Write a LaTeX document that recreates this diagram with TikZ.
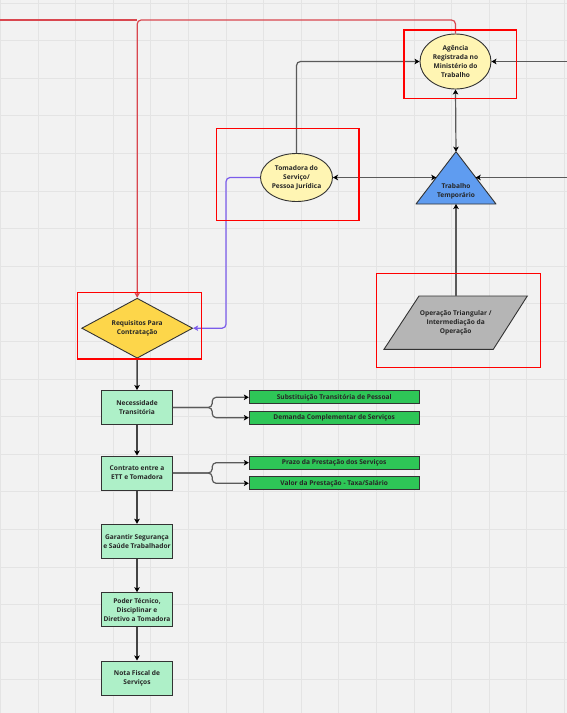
\documentclass[tikz,border=0pt]{standalone}
\usepackage{fontspec}
\setmainfont{Open Sans}
\usetikzlibrary{shapes.geometric,arrows.meta}
\definecolor{bg}{HTML}{F2F2F2}
\definecolor{gridc}{HTML}{E4E4E4}
\definecolor{edge}{HTML}{333333}
\definecolor{txt}{HTML}{262626}
\definecolor{lineg}{HTML}{5A5A5A}
\definecolor{lined}{HTML}{444444}
\definecolor{redc}{HTML}{D9474F}
\definecolor{purp}{HTML}{7B5CEB}
\definecolor{yellowL}{HTML}{FFF5B3}
\definecolor{yellowD}{HTML}{FDD64A}
\definecolor{blueT}{HTML}{5F9CF0}
\definecolor{grayP}{HTML}{B5B5B5}
\definecolor{mint}{HTML}{AEF0C8}
\definecolor{greenB}{HTML}{2EC657}
\tikzset{
  lbl/.style={font=\fontsize{6.6}{9}\selectfont\bfseries, text=txt, align=center},
  ell/.style={ellipse, draw=edge, fill=yellowL, line width=0.9pt, inner sep=0pt, lbl},
  lbox/.style={rectangle, draw=edge, fill=mint, line width=1pt, minimum width=70.6pt, minimum height=34pt, inner sep=0pt, lbl},
  gbox/.style={rectangle, draw=edge, fill=greenB, line width=1pt, minimum width=169.7pt, minimum height=13.3pt, inner sep=0pt, lbl},
  conn/.style={draw=lineg, line width=1.2pt, rounded corners=4pt},
  connd/.style={draw=lined, line width=1.5pt, rounded corners=4pt},
  tipk/.style={-{Stealth[length=5pt,width=5.5pt,inset=1.2pt,color=black]}},
  tipkk/.style={{Stealth[length=5pt,width=5.5pt,inset=1.2pt,color=black]}-{Stealth[length=5pt,width=5.5pt,inset=1.2pt,color=black]}},
  tipc/.style={-{Stealth[length=5pt,width=5.5pt,inset=1.2pt]}},
  anno/.style={draw=red, line width=1.5pt},
}
\begin{document}
\begin{tikzpicture}[x=1pt,y=-1pt]
\useasboundingbox (0,0) rectangle (567,713);
\fill[bg] (0,0) rectangle (567,713);
\foreach \i in {0,...,15} \draw[gridc, line width=1pt] ({0.5+37.6*\i},0) -- ++(0,713);
\foreach \j in {0,...,18} \draw[gridc, line width=1pt] (0,{3+37.6*\j}) -- ++(567,0);

% shapes
\node[ell, minimum width=71pt, minimum height=55pt] (ag) at (455.5,61.5) {Agência\\Registrada no\\Ministério do\\Trabalho};
\node[ell, minimum width=72pt, minimum height=48pt] (tom) at (296.5,177.5) {Tomadora do\\Serviço/\\Pessoa Jurídica};

\draw[draw=edge, fill=blueT, line width=0.9pt, line join=round] (416,204) -- (456,151.7) -- (496,204) -- cycle;
\node[lbl] (tri) at (456,191.3) {Trabalho\\Temporário};
\coordinate (triTop) at (456,151.7);
\coordinate (triL) at (436.3,177.5);
\coordinate (triR) at (475.7,177.5);
\coordinate (triB) at (456,204);

\node[diamond, draw=edge, fill=yellowD, line width=0.9pt, aspect=1.85, minimum width=111pt, minimum height=60pt, inner sep=0pt, lbl] (req) at (137.2,328.2) {Requisitos Para\\Contratação};

\draw[draw=edge, fill=grayP, line width=0.9pt] (419,296) -- (527.3,296) -- (493.3,349.3) -- (384,349.3) -- cycle;
\node[lbl] (op) at (455.7,322.7) {Operação Triangular /\\Intermediação da\\Operação};
\coordinate (opTop) at (456,296);

\node[lbox] (nec) at (137,407.5) {Necessidade\\Transitória};
\node[lbox] (con) at (137,473) {Contrato entre a\\ETT e Tomadora};
\node[lbox] (gar) at (137,541.3) {Garantir Segurança\\e Saúde Trabalhador};
\node[lbox] (pod) at (137,609.7) {Poder Técnico,\\Disciplinar e\\Diretivo a Tomadora};
\node[lbox] (nota) at (137,678) {Nota Fiscal de\\Serviços};

\node[gbox] (s1) at (334.2,397.3) {Substituição Transitória de Pessoal};
\node[gbox] (s2) at (334.2,417.7) {Demanda Complementar de Serviços};
\node[gbox] (s3) at (334.2,462.7) {Prazo da Prestação dos Serviços};
\node[gbox] (s4) at (334.2,483.3) {Valor da Prestação - Taxa/Salário};

% connectors
\coordinate (rc) at (137.2,20);
\coordinate (redL) at (0,20);
\draw[draw=redc, line width=1.2pt] (rc) -- (redL);
\draw[draw=redc, line width=1.2pt, rounded corners=4pt, tipc] (ag.north) |- (rc) -- (req.north);

\draw[conn, tipk] (tom.north) |- (ag.west);
\coordinate (rE1) at (567,61.5);
\coordinate (rE2) at (567,177.5);
\draw[conn, tipk] (rE1) -- (ag.east);
\draw[conn, tipk] (rE2) -- (triR);
\draw[conn, tipkk] (ag.south) -- (triTop);
\draw[conn, tipkk] (tom.east) -- (triL);
\draw[conn, tipk] (opTop) -- (triB);

\draw[draw=purp, line width=1.2pt, rounded corners=4pt, tipc] (tom.west) -- ++(-34,0) |- (req.east);

\draw[connd, tipk] (req.south) -- (nec.north);
\draw[connd, tipk] (nec.south) -- (con.north);
\draw[connd, tipk] (con.south) -- (gar.north);
\draw[connd, tipk] (gar.south) -- (pod.north);
\draw[connd, tipk] (pod.south) -- (nota.north);

\draw[conn, tipk] (nec.east) -- ++(39.4,0) |- (s1.west);
\draw[conn, tipk] (nec.east) -- ++(39.4,0) |- (s2.west);
\draw[conn, tipk] (con.east) -- ++(39.4,0) |- (s3.west);
\draw[conn, tipk] (con.east) -- ++(39.4,0) |- (s4.west);

% annotation frames
\draw[anno] (404,30) rectangle (516.7,98.7);
\draw[anno] (216.7,128.3) rectangle (359,220.7);
\draw[anno] (77.7,292.7) rectangle (201.7,359);
\draw[anno] (376.7,273.3) rectangle (540.7,367.3);
\end{tikzpicture}
\end{document}
